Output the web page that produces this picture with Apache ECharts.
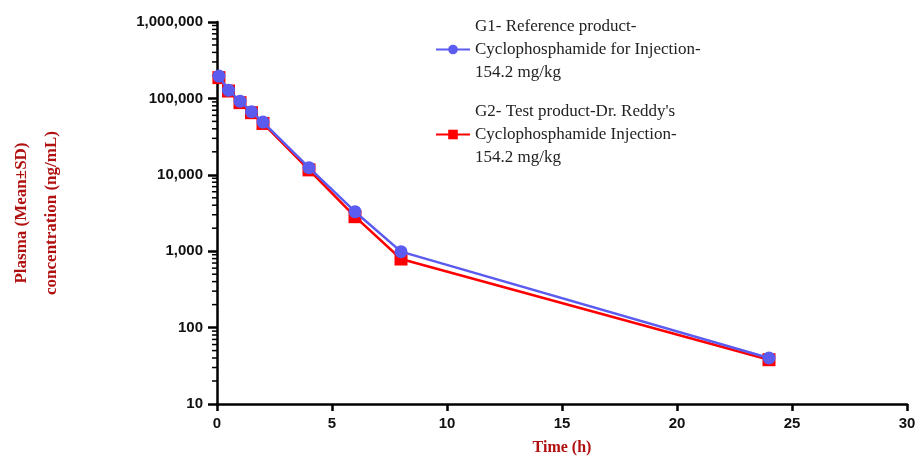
<!DOCTYPE html>
<html>
<head>
<meta charset="utf-8">
<script src="https://cdn.jsdelivr.net/npm/echarts@6/dist/echarts.min.js"></script>
<style>
  html, body { margin: 0; padding: 0; background: #fff; }
  #main { width: 919px; height: 462px; }
</style>
</head>
<body>
<div id="main"></div>
<script>
var times = [0.083, 0.5, 1, 1.5, 2, 4, 6, 8, 24];
var g1 = [196000, 128000, 92000, 67000, 49000, 12400, 3290, 986, 40];
var g2 = [187000, 125000, 88000, 65000, 47000, 11600, 2830, 790, 38];
var g1Name = 'G1- Reference product-\nCyclophosphamide for Injection-\n154.2 mg/kg';
var g2Name = "G2- Test product-Dr. Reddy's\nCyclophosphamide Injection-\n154.2 mg/kg";
var yTicks = [10, 100, 1000, 10000, 100000, 1000000];

var darkRed = '#b01010';
var chart = echarts.init(document.getElementById('main'));

function pairs(xs, ys) {
  var out = [];
  for (var i = 0; i < xs.length; i++) {
    out.push([xs[i], ys[i]]);
  }
  return out;
}

var option = {
  backgroundColor: '#fff',
  animation: false,
  grid: { left: 217, right: 12, top: 22, bottom: 58, containLabel: false, outerBoundsMode: 'none' },
  legend: {
    orient: 'vertical',
    left: 430,
    top: 10,
    itemWidth: 34,
    itemHeight: 12,
    itemGap: 16,
    textStyle: {
      fontFamily: 'Liberation Serif',
      fontSize: 17,
      lineHeight: 23,
      color: '#222'
    },
    data: [g1Name, g2Name]
  },
  xAxis: {
    type: 'value',
    min: 0,
    max: 30,
    interval: 5,
    name: 'Time (h)',
    nameLocation: 'middle',
    nameGap: 36,
    nameTextStyle: {
      fontFamily: 'Liberation Serif',
      fontWeight: 'bold',
      fontSize: 16,
      color: darkRed
    },
    axisLine: { lineStyle: { color: '#000', width: 2.5 } },
    axisTick: { length: 7, lineStyle: { color: '#000', width: 2.5 } },
    axisLabel: {
      margin: 12,
      fontFamily: 'Liberation Sans',
      fontWeight: 'bold',
      fontSize: 15,
      color: '#111'
    },
    splitLine: { show: false }
  },
  yAxis: {
    type: 'log',
    logBase: 10,
    min: 10,
    max: 1000000,
    name: 'Plasma (Mean±SD)\nconcentration (ng/mL)',
    nameLocation: 'middle',
    nameGap: 150,
    nameTextStyle: {
      fontFamily: 'Liberation Serif',
      fontWeight: 'bold',
      fontSize: 17,
      lineHeight: 30,
      color: darkRed
    },
    axisLine: { lineStyle: { color: '#000', width: 2.5 } },
    axisTick: { length: 9, lineStyle: { color: '#000', width: 2.5 } },
    axisLabel: {
      margin: 14,
      fontFamily: 'Liberation Sans',
      fontWeight: 'bold',
      fontSize: 15,
      color: '#111',
      formatter: function (v) { return Math.round(v).toLocaleString('en-US'); }
    },
    splitLine: { show: false }
  },
  series: [
    {
      name: g2Name,
      type: 'line',
      data: pairs(times, g2),
      symbol: 'rect',
      symbolSize: 13,
      z: 2,
      itemStyle: { color: '#ff0000' },
      lineStyle: { color: '#ff0000', width: 2.5 }
    },
    {
      name: g1Name,
      type: 'line',
      data: pairs(times, g1),
      symbol: 'circle',
      symbolSize: 13,
      z: 3,
      itemStyle: { color: '#5b5bf0' },
      lineStyle: { color: '#5b5bf0', width: 2.5 }
    }
  ]
};
chart.setOption(option);

// log-spaced minor ticks on the y axis (2..9 of each decade)
var minor = [];
var x0 = chart.convertToPixel({ xAxisIndex: 0 }, 0);
for (var d = 0; d < yTicks.length - 1; d++) {
  for (var k = 2; k <= 9; k++) {
    var p = chart.convertToPixel({ yAxisIndex: 0 }, yTicks[d] * k);
    minor.push({
      type: 'line',
      shape: { x1: x0 - 5, y1: p, x2: x0, y2: p },
      style: { stroke: '#000', lineWidth: 1.5 },
      silent: true
    });
  }
}
chart.setOption({ graphic: minor });
</script>
</body>
</html>
